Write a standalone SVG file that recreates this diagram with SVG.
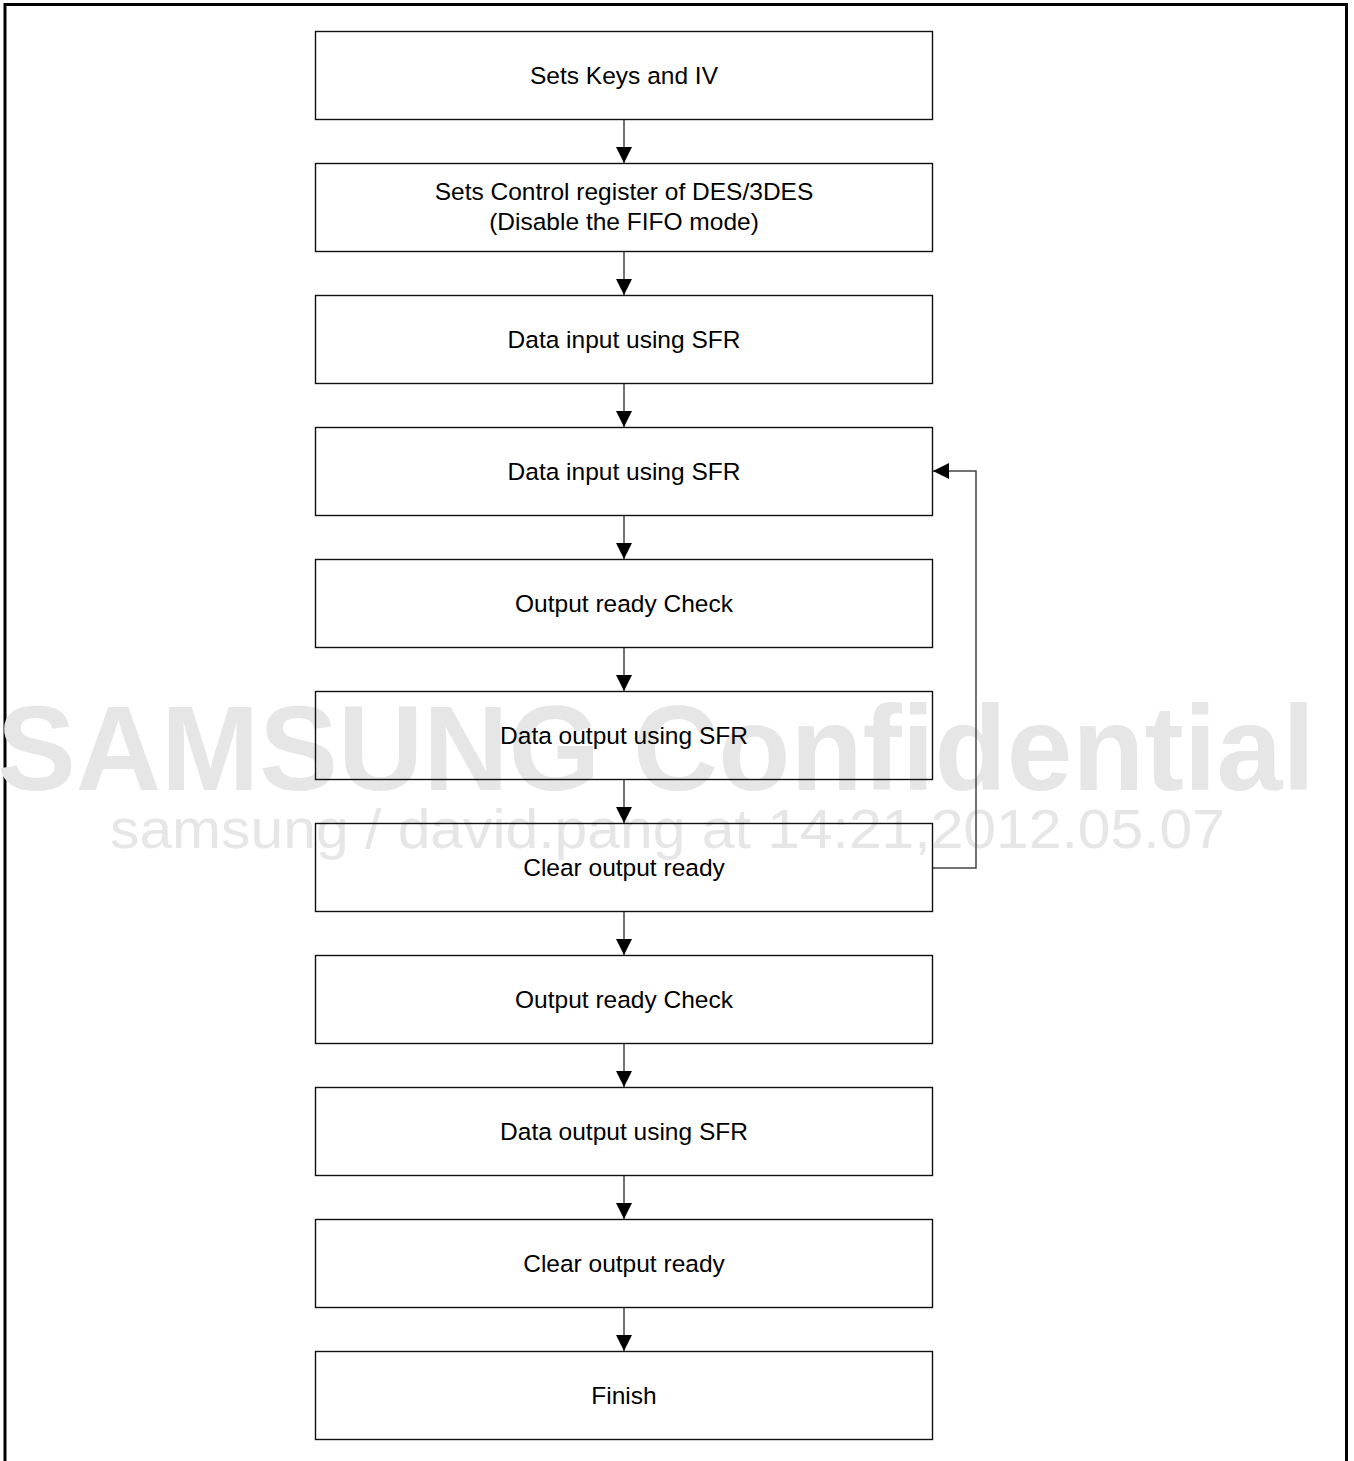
<svg xmlns="http://www.w3.org/2000/svg" width="1354" height="1461" viewBox="0 0 1354 1461">
<style>
.box{fill:none;stroke:#111;stroke-width:1.4}
.lbl{font-family:"Liberation Sans",Arial,sans-serif;font-size:24.5px;fill:#000;text-anchor:middle}
.con{fill:none;stroke:#444;stroke-width:1.5}
.wm1{font-family:"Liberation Sans",Arial,sans-serif;font-weight:bold;font-size:121px;fill:#e6e6e6}
.wm2{font-family:"Liberation Sans",Arial,sans-serif;font-size:56px;fill:#e6e6e6}
</style>
<defs>
<marker id="ah" markerWidth="16" markerHeight="16" refX="16" refY="8" viewBox="0 0 16 16" markerUnits="userSpaceOnUse" orient="auto">
<path d="M0,0 L16,8 L0,16 Z" fill="#000"/>
</marker>
</defs>
<rect width="1354" height="1461" fill="#fff"/>
<path d="M5,1461 V4.5 H1346.5 V1461" fill="none" stroke="#000" stroke-width="3"/>
<g id="watermark">
<text class="wm1" x="-3" y="790" textLength="1318" lengthAdjust="spacingAndGlyphs">SAMSUNG Confidential</text>
<text class="wm2" x="110" y="848" textLength="1115" lengthAdjust="spacingAndGlyphs">samsung / david.pang at 14:21,2012.05.07</text>
</g>
<g id="connectors">
<line class="con" x1="624" y1="119" x2="624" y2="163" marker-end="url(#ah)"/>
<line class="con" x1="624" y1="251" x2="624" y2="295" marker-end="url(#ah)"/>
<line class="con" x1="624" y1="383" x2="624" y2="427" marker-end="url(#ah)"/>
<line class="con" x1="624" y1="515" x2="624" y2="559" marker-end="url(#ah)"/>
<line class="con" x1="624" y1="647" x2="624" y2="691" marker-end="url(#ah)"/>
<line class="con" x1="624" y1="779" x2="624" y2="823" marker-end="url(#ah)"/>
<line class="con" x1="624" y1="911" x2="624" y2="955" marker-end="url(#ah)"/>
<line class="con" x1="624" y1="1043" x2="624" y2="1087" marker-end="url(#ah)"/>
<line class="con" x1="624" y1="1175" x2="624" y2="1219" marker-end="url(#ah)"/>
<line class="con" x1="624" y1="1307" x2="624" y2="1351" marker-end="url(#ah)"/>
<polyline class="con" points="933,868 976,868 976,471 933,471" marker-end="url(#ah)"/>
</g>
<g id="n1"><rect class="box" x="315.5" y="31.5" width="617" height="88"/><text class="lbl" x="624" y="84">Sets Keys and IV</text></g>
<g id="n2"><rect class="box" x="315.5" y="163.5" width="617" height="88"/><text class="lbl" x="624" y="200">Sets Control register of DES/3DES</text><text class="lbl" x="624" y="230">(Disable the FIFO mode)</text></g>
<g id="n3"><rect class="box" x="315.5" y="295.5" width="617" height="88"/><text class="lbl" x="624" y="348">Data input using SFR</text></g>
<g id="n4"><rect class="box" x="315.5" y="427.5" width="617" height="88"/><text class="lbl" x="624" y="480">Data input using SFR</text></g>
<g id="n5"><rect class="box" x="315.5" y="559.5" width="617" height="88"/><text class="lbl" x="624" y="612">Output ready Check</text></g>
<g id="n6"><rect class="box" x="315.5" y="691.5" width="617" height="88"/><text class="lbl" x="624" y="744">Data output using SFR</text></g>
<g id="n7"><rect class="box" x="315.5" y="823.5" width="617" height="88"/><text class="lbl" x="624" y="876">Clear output ready</text></g>
<g id="n8"><rect class="box" x="315.5" y="955.5" width="617" height="88"/><text class="lbl" x="624" y="1008">Output ready Check</text></g>
<g id="n9"><rect class="box" x="315.5" y="1087.5" width="617" height="88"/><text class="lbl" x="624" y="1140">Data output using SFR</text></g>
<g id="n10"><rect class="box" x="315.5" y="1219.5" width="617" height="88"/><text class="lbl" x="624" y="1272">Clear output ready</text></g>
<g id="n11"><rect class="box" x="315.5" y="1351.5" width="617" height="88"/><text class="lbl" x="624" y="1404">Finish</text></g>
</svg>
